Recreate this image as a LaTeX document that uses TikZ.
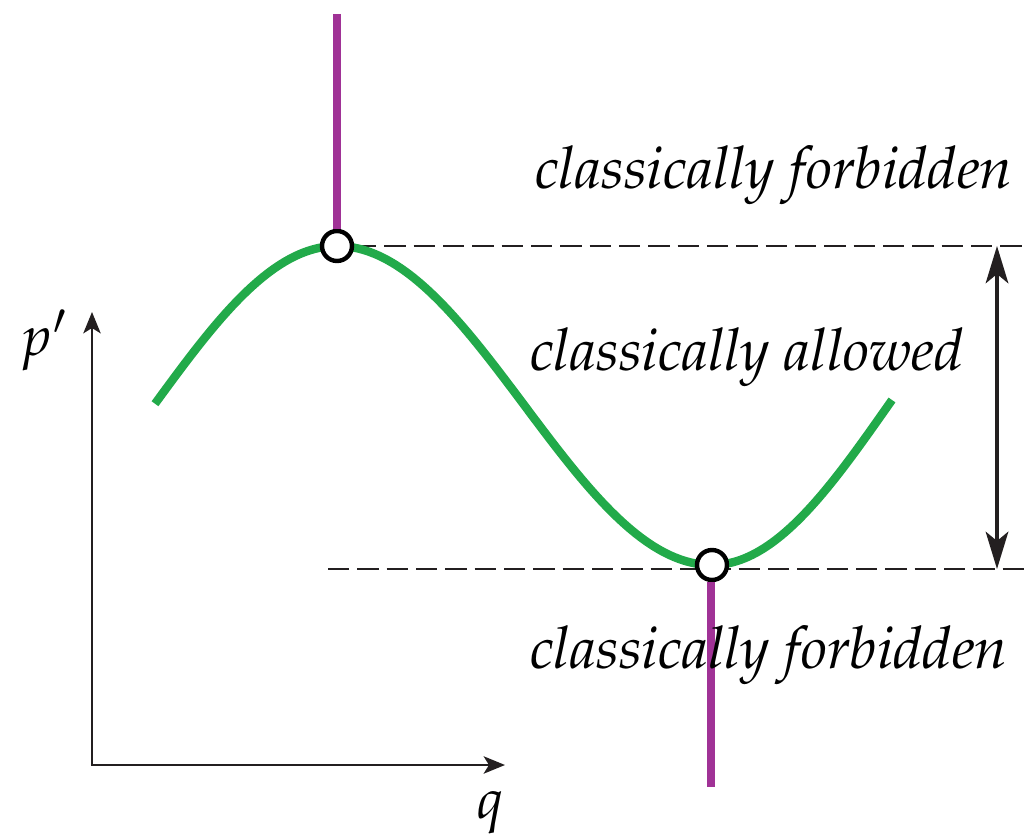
\documentclass[tikz,border=0pt]{standalone}
\usepackage[T1]{fontenc}
\usepackage{mathpazo}
\usetikzlibrary{arrows.meta}
\definecolor{curvegreen}{RGB}{34,170,74}
\definecolor{turnpurple}{RGB}{160,50,150}
\definecolor{inkline}{RGB}{35,31,32}
\begin{document}
\begin{tikzpicture}[x=.75pt,y=-.75pt,
  regionlabel/.style={inner sep=0pt,outer sep=0pt,anchor=base west,font=\itshape\fontsize{44}{50}\selectfont},
  axislabel/.style={inner sep=0pt,outer sep=0pt,anchor=base west,font=\fontsize{42}{48}\selectfont},
  turnpt/.style={circle,draw=black,fill=white,line width=3.3pt,inner sep=0pt,minimum size=22.5pt},
  guide/.style={draw=inkline,line width=2pt,dash pattern=on 16pt off 6pt},
  axis/.style={draw=inkline,line width=1.8pt,-{Stealth[length=16pt,width=13pt,inset=4pt]}}]
\path[use as bounding box] (0,0) rectangle (1025,838);
% allowed band
\draw[guide] (355,246) coordinate (tr) -- (1025,246) coordinate (te);
\draw[guide] (328,569) coordinate (bl) -- (1025,569) coordinate (be);
\draw[draw=inkline,line width=2.5pt,{Stealth[length=28pt,width=17pt,inset=7pt]}-{Stealth[length=28pt,width=17pt,inset=7pt]}] (997,246) coordinate (ht) -- (997,569) coordinate (hb);
% potential curve
\draw[curvegreen,line width=6.3pt,line join=round]
  plot[domain=155:337,samples=50] ({\x},{405.5-159.5*cos((\x-337)*0.491)})
  -- plot[domain=337:712,samples=90] ({\x},{405.5-159.5*cos((\x-337)*0.48)})
  -- plot[domain=712:892,samples=50] ({\x},{405.5+159.5*cos((\x-712)*0.511)});
% turning points
\coordinate (tv) at (337,14);
\coordinate (bv) at (711,787);
\node[turnpt] (tp) at (337,246) {};
\node[turnpt] (bp) at (712,565) {};
\draw[turnpurple,line width=5.5pt] (tv) -- (tp.north);
\draw[turnpurple,line width=5.5pt] (bp.south -| bv) -- (bv);
% axes
\coordinate (o) at (92,765);
\coordinate (py) at (92,312);
\coordinate (qx) at (505,765);
\draw[axis] (o) -- (py);
\draw[axis] ([xshift=-0.9pt]o) -- (qx);
\node[axislabel] (plab) at (20,355) {$p'$};
\node[axislabel] (qlab) at (477,818) {$q$};
% regions
\node[regionlabel] (fbtop) at (535,189) {classically forbidden};
\node[regionlabel] (alw) at (530,370) {classically allowed};
\node[regionlabel] (fbbot) at (530,668) {classically forbidden};
\end{tikzpicture}
\end{document}
